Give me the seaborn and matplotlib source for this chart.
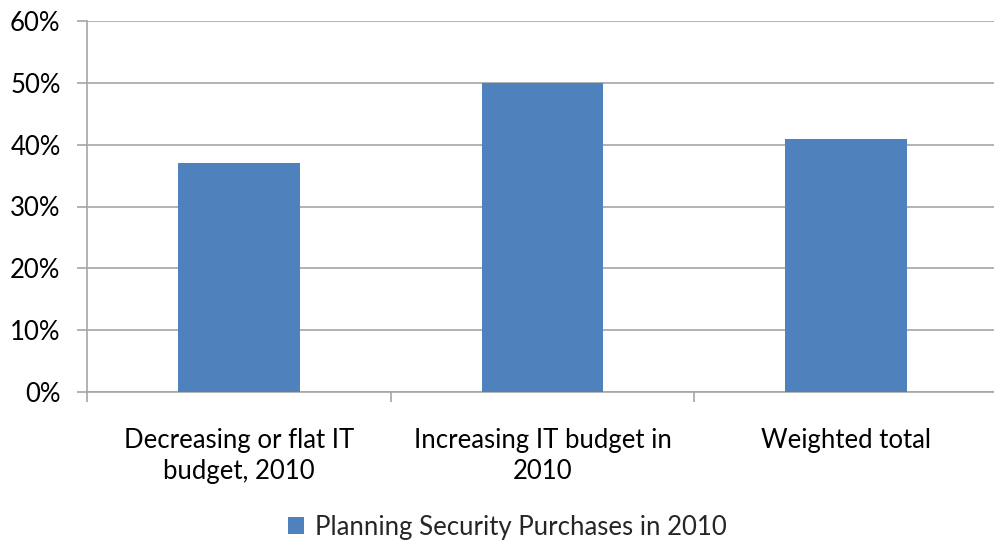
import matplotlib
matplotlib.use("Agg")
import matplotlib.pyplot as plt
import seaborn as sns
from matplotlib.ticker import FuncFormatter, FixedLocator

categories = ["Decreasing or flat IT\nbudget, 2010", "Increasing IT budget in\n2010", "Weighted total"]
values = [37.0, 50.0, 40.9]
series_name = "Planning Security Purchases in 2010"
yticks = [0, 10, 20, 30, 40, 50, 60]

sns.set_theme(style="white")
plt.rcParams['font.family'] = ['Lato', 'DejaVu Sans']

fig = plt.figure(figsize=(9.94, 5.43), dpi=100)
W, H = 994, 543
ax = fig.add_axes([87 / W, 1 - 392 / H, (998 - 87) / W, (392 - 21) / H])

grid_c = "#a6a6a6"
sns.barplot(x=categories, y=values, color="#4F81BD", width=0.4, saturation=1,
            label=series_name, ax=ax, zorder=3, linewidth=0)

ax.set_xlim(-0.5, 2.5)
ax.set_ylim(0, 60)
ax.set_yticks(yticks)
ax.yaxis.set_major_formatter(FuncFormatter(lambda v, p: f"{int(v)}%"))
ax.yaxis.grid(True, color=grid_c, linewidth=1.2, zorder=0)
ax.set_axisbelow(True)

for s in ["top", "right"]:
    ax.spines[s].set_visible(False)
for s in ["left", "bottom"]:
    ax.spines[s].set_color(grid_c)
    ax.spines[s].set_linewidth(1.2)

fs = 18.5
ax.tick_params(axis="y", which="major", length=7, color=grid_c, width=1.2,
               labelsize=fs, pad=12, left=True, labelcolor="black")
ax.tick_params(axis="x", which="major", length=0, labelsize=fs, pad=26, labelcolor="black")
ax.xaxis.set_minor_locator(FixedLocator([-0.5, 0.5, 1.5]))
ax.tick_params(axis="x", which="minor", length=7, color=grid_c, width=1.2, bottom=True)
for lbl in ax.get_xticklabels():
    lbl.set_linespacing(1.3)
ax.set_xlabel("")
ax.set_ylabel("")

leg = ax.legend(loc="center", bbox_to_anchor=(507 / W, 1 - 527 / H), bbox_transform=fig.transFigure,
                frameon=False, fontsize=fs, handlelength=0.65, handleheight=0.65, handletextpad=0.4)

fig.savefig("out.png", dpi=100)
